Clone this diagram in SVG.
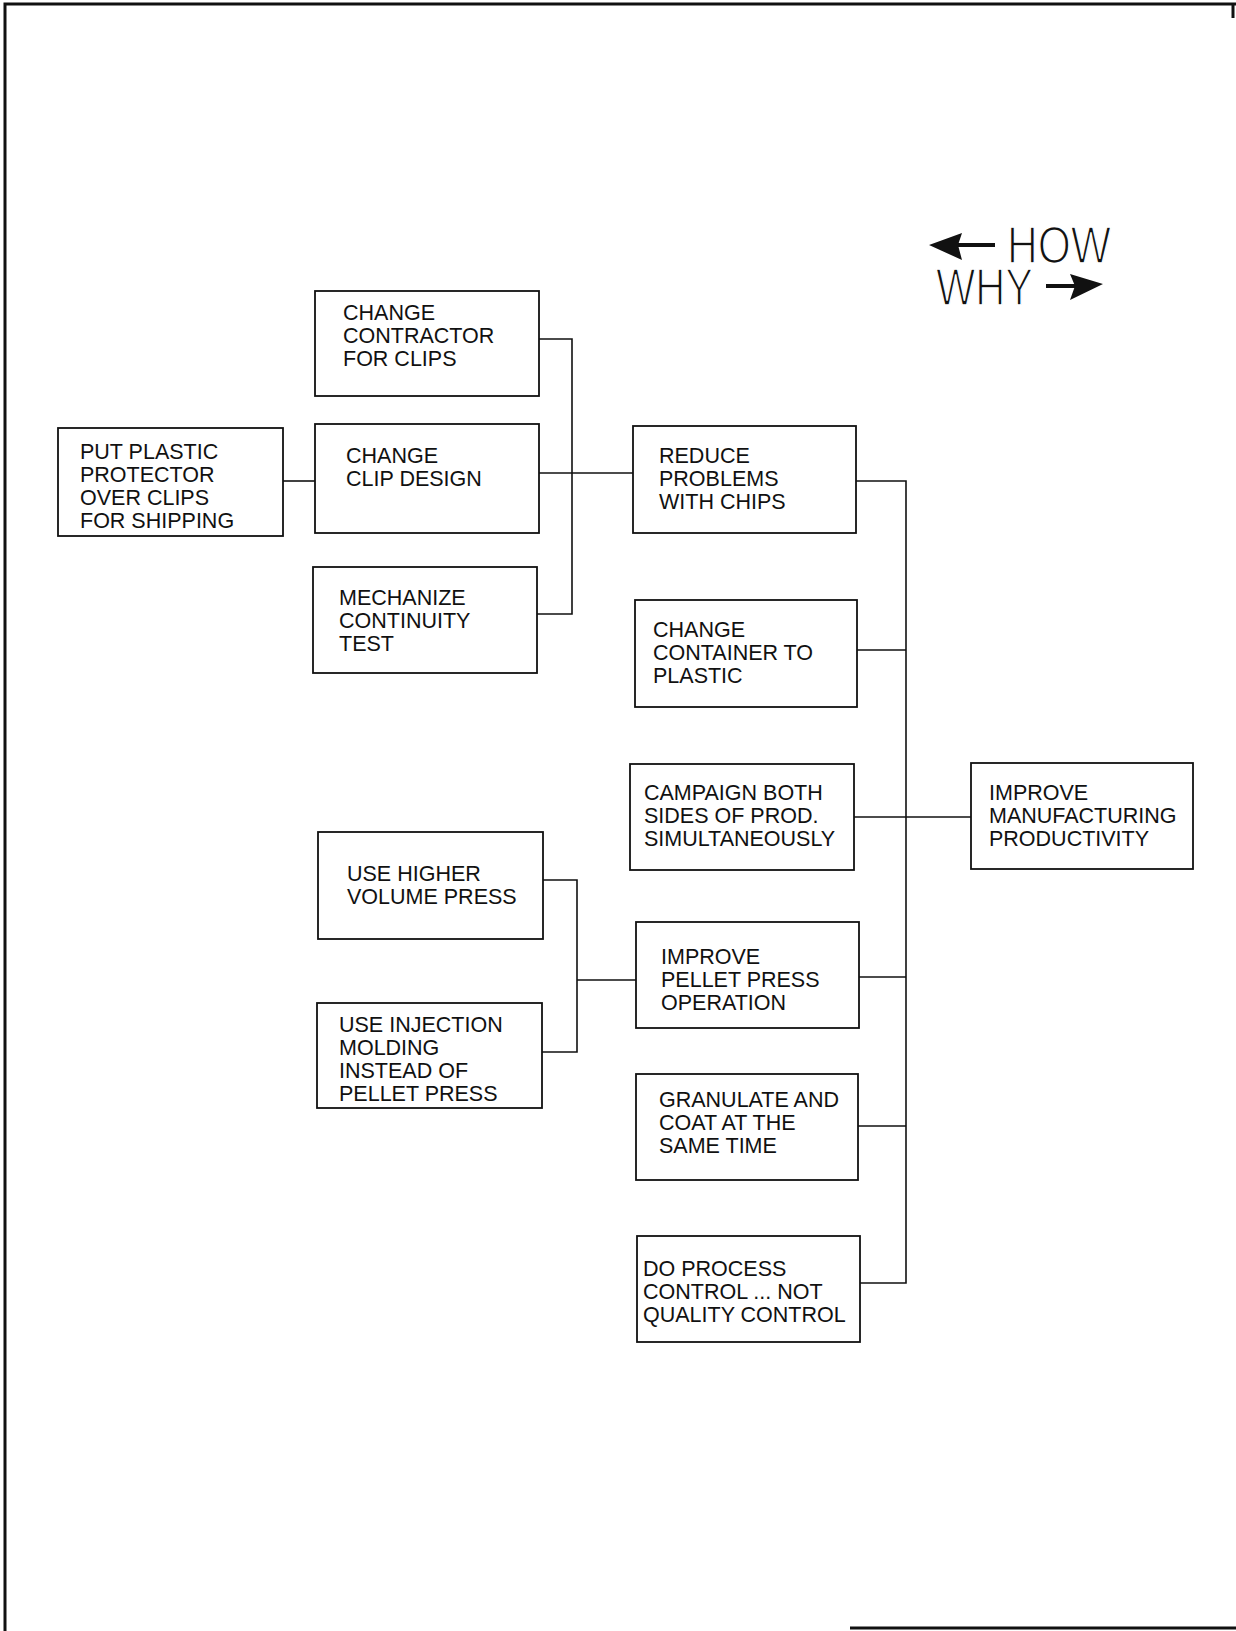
<svg xmlns="http://www.w3.org/2000/svg" width="1236" height="1631" viewBox="0 0 1236 1631">
<style>
.box{fill:#fff;stroke:#111;stroke-width:1.8}
.t{font-family:"Liberation Sans",Arial,sans-serif;font-size:21.5px;fill:#111}
.c{fill:none;stroke:#111;stroke-width:1.6}
.lg{font-family:"Liberation Sans",Arial,sans-serif;font-size:52px;fill:#111;stroke:#fff;stroke-width:1.6}
.frame{fill:none;stroke:#111;stroke-width:3}
</style>
<rect width="1236" height="1631" fill="#fff"/>
<g id="frame">
<path class="frame" d="M5,1631 V4 H1236"/>
<path class="frame" d="M1233,4 V18"/>
<path class="frame" d="M850,1628 H1236"/>
</g>
<g id="legend">
<text class="lg" x="1007" y="263" textLength="104" lengthAdjust="spacingAndGlyphs">HOW</text>
<line x1="958" y1="245" x2="995" y2="245" stroke="#111" stroke-width="4"/>
<polygon points="929,245 962,233 958,245 962,260" fill="#111"/>
<text class="lg" x="936" y="305" textLength="97" lengthAdjust="spacingAndGlyphs">WHY</text>
<line x1="1046" y1="286" x2="1080" y2="286" stroke="#111" stroke-width="4"/>
<polygon points="1103,284 1070,274 1075,286 1070,300" fill="#111"/>
</g>
<g id="connectors">
<path class="c" d="M539,339 H572 V614 H537"/>
<path class="c" d="M539,473 H633"/>
<path class="c" d="M283,481 H315"/>
<path class="c" d="M856,481 H906 V1283 H860"/>
<path class="c" d="M857,650 H906"/>
<path class="c" d="M854,817 H971"/>
<path class="c" d="M859,977 H906"/>
<path class="c" d="M858,1126 H906"/>
<path class="c" d="M543,880 H577 V1052 H542"/>
<path class="c" d="M577,980 H636"/>
</g>
<g id="n1"><rect class="box" x="315" y="291" width="224" height="105"/>
<text class="t"><tspan x="343" y="320">CHANGE</tspan><tspan x="343" y="343">CONTRACTOR</tspan><tspan x="343" y="366">FOR CLIPS</tspan></text></g>
<g id="n2"><rect class="box" x="58" y="428" width="225" height="108"/>
<text class="t"><tspan x="80" y="459">PUT PLASTIC</tspan><tspan x="80" y="482">PROTECTOR</tspan><tspan x="80" y="505">OVER CLIPS</tspan><tspan x="80" y="528">FOR SHIPPING</tspan></text></g>
<g id="n3"><rect class="box" x="315" y="424" width="224" height="109"/>
<text class="t"><tspan x="346" y="463">CHANGE</tspan><tspan x="346" y="486">CLIP DESIGN</tspan></text></g>
<g id="n4"><rect class="box" x="313" y="567" width="224" height="106"/>
<text class="t"><tspan x="339" y="605">MECHANIZE</tspan><tspan x="339" y="628">CONTINUITY</tspan><tspan x="339" y="651">TEST</tspan></text></g>
<g id="n5"><rect class="box" x="633" y="426" width="223" height="107"/>
<text class="t"><tspan x="659" y="463">REDUCE</tspan><tspan x="659" y="486">PROBLEMS</tspan><tspan x="659" y="509">WITH CHIPS</tspan></text></g>
<g id="n6"><rect class="box" x="635" y="600" width="222" height="107"/>
<text class="t"><tspan x="653" y="637">CHANGE</tspan><tspan x="653" y="660">CONTAINER TO</tspan><tspan x="653" y="683">PLASTIC</tspan></text></g>
<g id="n7"><rect class="box" x="630" y="764" width="224" height="106"/>
<text class="t"><tspan x="644" y="800">CAMPAIGN BOTH</tspan><tspan x="644" y="823">SIDES OF PROD.</tspan><tspan x="644" y="846">SIMULTANEOUSLY</tspan></text></g>
<g id="n8"><rect class="box" x="971" y="763" width="222" height="106"/>
<text class="t"><tspan x="989" y="800">IMPROVE</tspan><tspan x="989" y="823">MANUFACTURING</tspan><tspan x="989" y="846">PRODUCTIVITY</tspan></text></g>
<g id="n9"><rect class="box" x="318" y="832" width="225" height="107"/>
<text class="t"><tspan x="347" y="881">USE HIGHER</tspan><tspan x="347" y="904">VOLUME PRESS</tspan></text></g>
<g id="n10"><rect class="box" x="317" y="1003" width="225" height="105"/>
<text class="t"><tspan x="339" y="1032">USE INJECTION</tspan><tspan x="339" y="1055">MOLDING</tspan><tspan x="339" y="1078">INSTEAD OF</tspan><tspan x="339" y="1101">PELLET PRESS</tspan></text></g>
<g id="n11"><rect class="box" x="636" y="922" width="223" height="106"/>
<text class="t"><tspan x="661" y="964">IMPROVE</tspan><tspan x="661" y="987">PELLET PRESS</tspan><tspan x="661" y="1010">OPERATION</tspan></text></g>
<g id="n12"><rect class="box" x="636" y="1074" width="222" height="106"/>
<text class="t"><tspan x="659" y="1107">GRANULATE AND</tspan><tspan x="659" y="1130">COAT AT THE</tspan><tspan x="659" y="1153">SAME TIME</tspan></text></g>
<g id="n13"><rect class="box" x="637" y="1236" width="223" height="106"/>
<text class="t"><tspan x="643" y="1276">DO PROCESS</tspan><tspan x="643" y="1299">CONTROL ... NOT</tspan><tspan x="643" y="1322">QUALITY CONTROL</tspan></text></g>
</svg>
